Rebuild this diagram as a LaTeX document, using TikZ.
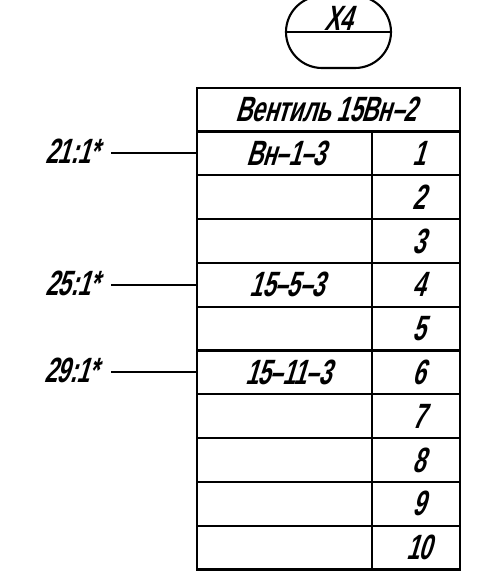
\documentclass[tikz,border=0pt]{standalone}
\usepackage{fontspec}
\usetikzlibrary{shapes.misc}
\newfontfamily\gostfont[FakeSlant=0.3,FakeStretch=0.66,LetterSpace=-1.5]{Liberation Sans Bold}
\tikzset{
    gost/.style={font=\gostfont\fontsize{20}{22}\selectfont, text=black},
    wirecell/.style={draw=black, line width=1.2pt, minimum width=175*0.02cm, minimum height=43.8*0.02cm, inner sep=0pt},
    numcell/.style={gost, draw=black, line width=1.2pt, minimum width=88*0.02cm, minimum height=43.8*0.02cm, inner sep=0pt},
    headcell/.style={draw=black, line width=1.2pt, minimum width=263*0.02cm, minimum height=43.8*0.02cm, inner sep=0pt},
    lead/.style={gost, anchor=east, inner sep=0pt}
}

\begin{document}
\begin{tikzpicture}[x=0.02cm, y=-0.02cm]

\useasboundingbox (0,0) rectangle (478,585);
\clip (0,0) rectangle (478,585);

\node [rounded rectangle, draw=black, line width=1.2pt, minimum width=105*0.02cm, minimum height=72*0.02cm, inner sep=0pt] (plug) at (338.5,32) {};
\draw [line width=1.2pt] (plug.west) -- (plug.east);
\node [gost] (plugname) at (338,18) {X4};

\node [headcell] (head) at (328.5,109.6) {};
\node [gost] (headname) at (326,109.6) {Вентиль 15Вн–2};

\foreach \i [evaluate=\i as \y using 87.7+43.8*(\i+0.5)] in {1,...,10} {
    \node [wirecell] (w\i) at (284.5,\y) {};
    \node [numcell] (n\i) at (416,\y) {\hspace{3pt}\i};
}

\node [gost] (t1) at (286,153.4) {Вн–1–3};
\node [gost] (t4) at (287,284.8) {15–5–3};
\node [gost] (t6) at (288,372.4) {15–11–3};

\node [lead] (l21) at (99,151.5) {21:1*};
\node [lead] (l25) at (99,283) {25:1*};
\node [lead] (l29) at (98,370.5) {29:1*};

\coordinate (c21) at (111,153.4);
\coordinate (c25) at (111,284.8);
\coordinate (c29) at (111,372.4);

\draw [line width=1.2pt] (c21) -- (w1.west);
\draw [line width=1.2pt] (c25) -- (w4.west);
\draw [line width=1.2pt] (c29) -- (w6.west);

\end{tikzpicture}
\end{document}
